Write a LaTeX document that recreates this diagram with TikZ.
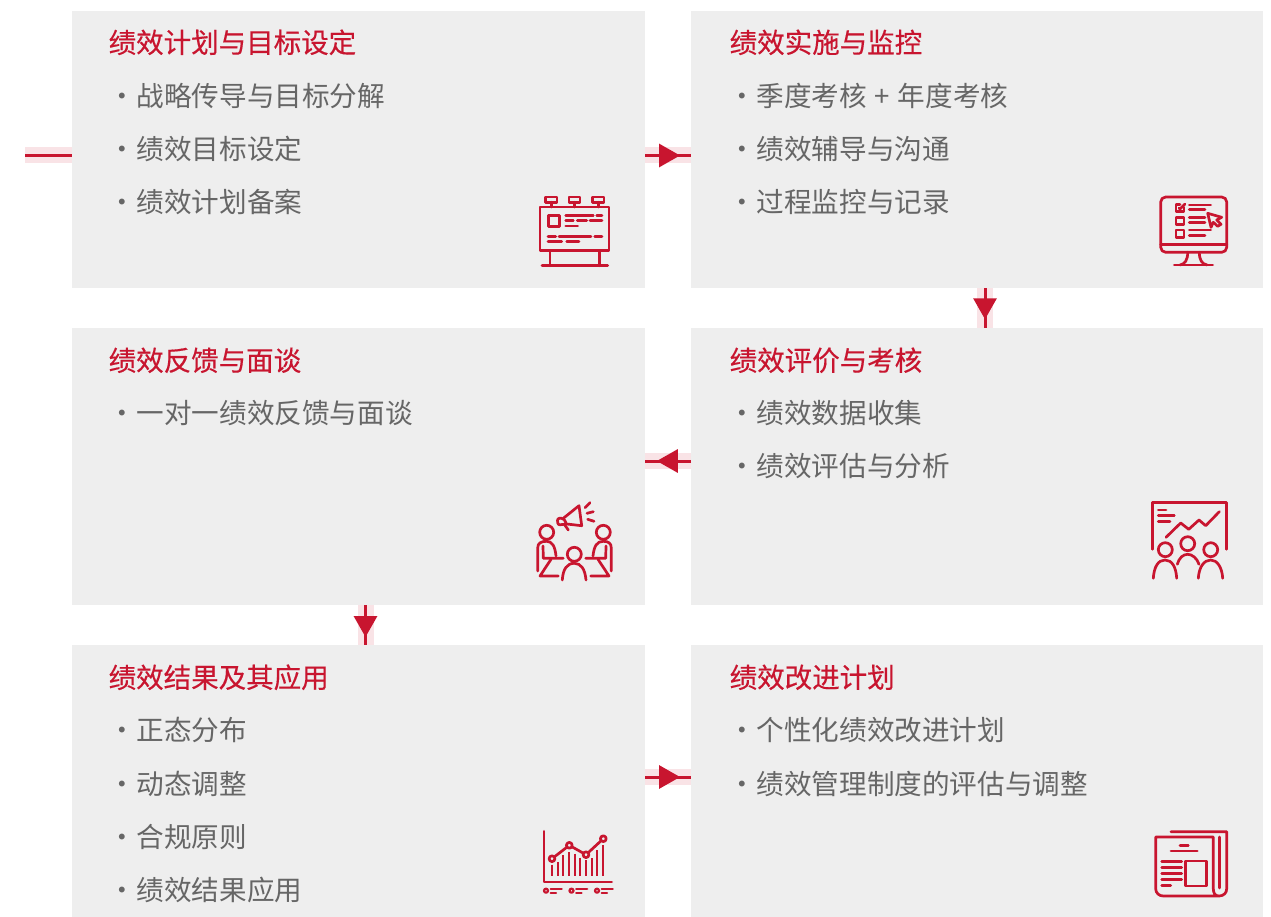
\documentclass[tikz,border=0pt]{standalone}
\usepackage{fontspec}
\setmainfont{Noto Sans CJK SC}
\newfontfamily\headfont[FakeBold=0.35]{Noto Sans CJK SC}
\usetikzlibrary{arrows.meta,decorations.markings,calc}
\definecolor{brand}{HTML}{C8152F}
\definecolor{pale}{HTML}{F9E3E6}
\definecolor{panel}{HTML}{EEEEEE}
\definecolor{ink}{HTML}{666666}
\newcommand\itm[1]{\makebox[22pt]{·}\hspace{3.5pt}#1}
\tikzset{
  panelbox/.style={fill=panel,draw=none,minimum width=#1,minimum height=277pt,inner sep=0,anchor=north west},
  panelbox/.default=573pt,
  title/.style={anchor=west,inner sep=0,text=brand,font=\headfont\fontsize{27.5}{30}\selectfont},
  item/.style={anchor=west,inner sep=0,text=ink,font=\fontsize{27.6}{30}\selectfont},
  band/.style={draw=pale,line width=16pt},
  flowline/.style={draw=brand,line width=3pt},
  flowtip/.style={postaction={decorate,decoration={markings,mark=at position #1 with {\arrow[brand]{Triangle[length=21pt,width=23pt]}}}}},
  ic/.style={draw=brand,line width=2.7pt,line cap=round,line join=round},
}
\newcommand\flow[3]{%
  \draw[band] #1 -- #2;
  \draw[flowline,flowtip=#3] #1 -- #2;
}
\begin{document}
\begin{tikzpicture}[x=1pt,y=-1pt]
\useasboundingbox (0,0) rectangle (1271,917);
\fill[white] (0,0) rectangle (1271,917);
% panels
\node[panelbox] (a) at (72,11) {};
\node[panelbox=572pt] (b) at (691,11) {};
\node[panelbox] (d) at (72,328) {};
\node[panelbox=572pt] (c) at (691,328) {};
\node[panelbox,minimum height=272pt] (e) at (72,645) {};
\node[panelbox=572pt,minimum height=272pt] (f) at (691,645) {};
% connectors
\coordinate (start) at (25,155.5);
\draw[band] (start) -- (start -| a.west);
\draw[flowline] (start) -- (start -| a.west);
\flow{(a.east |- start)}{(b.west |- start)}{.76}
\coordinate (bc) at (985,0);
\flow{(bc |- b.south)}{(bc |- c.north)}{.78}
\coordinate (cd) at (0,461);
\flow{(c.west |- cd)}{(d.east |- cd)}{.75}
\coordinate (de) at (365.5,0);
\flow{(de |- d.south)}{(de |- e.north)}{.8}
\coordinate (ef) at (0,777);
\flow{(e.east |- ef)}{(f.west |- ef)}{.76}
% texts
\node[title] (a0) at (108.5,42.3) {绩效计划与目标设定};
\node[item] (a1) at (111,96.3) {\itm{战略传导与目标分解}};
\node[item] (a2) at (111,149.3) {\itm{绩效目标设定}};
\node[item] (a3) at (111,202.3) {\itm{绩效计划备案}};
\node[title] (b0) at (729.5,42.3) {绩效实施与监控};
\node[item] (b1) at (731,96.3) {\itm{季度考核\hspace{1.6pt} + \hspace{1.6pt}年度考核}};
\node[item] (b2) at (731,149.3) {\itm{绩效辅导与沟通}};
\node[item] (b3) at (731,202.3) {\itm{过程监控与记录}};
\node[title] (d0) at (108.5,360.3) {绩效反馈与面谈};
\node[item] (d1) at (111,413.3) {\itm{一对一绩效反馈与面谈}};
\node[title] (c0) at (729.5,360.3) {绩效评价与考核};
\node[item] (c1) at (731,413.3) {\itm{绩效数据收集}};
\node[item] (c2) at (731,466.3) {\itm{绩效评估与分析}};
\node[title] (e0) at (108.5,677.3) {绩效结果及其应用};
\node[item] (e1) at (111,730.3) {\itm{正态分布}};
\node[item] (e2) at (111,784.3) {\itm{动态调整}};
\node[item] (e3) at (111,837.3) {\itm{合规原则}};
\node[item] (e4) at (111,890.3) {\itm{绩效结果应用}};
\node[title] (f0) at (729.5,677.3) {绩效改进计划};
\node[item] (f1) at (731,730.3) {\itm{个性化绩效改进计划}};
\node[item] (f2) at (731,784.3) {\itm{绩效管理制度的评估与调整}};
% icon: billboard
\begin{scope}[ic]
\draw (540,207) rectangle (609,250.7);
\draw (545.7,197) rectangle (557,202.3) (569,197) rectangle (580,202.3) (592.7,197) rectangle (604,202.3);
\draw (551.3,202.3) -- (551.3,207) (574.3,202.3) -- (574.3,207) (598.3,202.3) -- (598.3,207);
\draw (550,250.7) -- (550,265.7) (599.3,250.7) -- (599.3,265.7) (542,265.7) -- (607.7,265.7);
\draw (548.3,215.3) rectangle (559.3,226.7);
\draw (565.7,215.3) -- (593.3,215.3) (596.7,215.3) -- (602,215.3);
\draw (565.7,220.7) -- (573.3,220.7) (577.3,220.7) -- (586.7,220.7) (590,220.7) -- (602,220.7);
\draw (565.7,226) -- (577.7,226);
\draw (548,236.3) -- (555.7,236.3) (559,236.3) -- (591,236.3) (594.7,236.3) -- (602,236.3);
\draw (548,241.7) -- (561.7,241.7) (566.7,241.7) -- (579,241.7);
\end{scope}
% icon: monitor
\begin{scope}[ic]
\draw[rounded corners=5pt] (1160.7,197) rectangle (1226.7,252.3);
\draw (1160.7,244.3) -- (1226.7,244.3);
\draw (1187.7,252.3) .. controls (1187.7,260) and (1185,264) .. (1180,265);
\draw (1199.3,252.3) .. controls (1199.3,260) and (1202,264) .. (1207,265);
\draw (1174.3,265) -- (1212.7,265);
\draw (1184,207.5) -- (1184,211.7) -- (1176,211.7) -- (1176,204.3) -- (1180,204.3);
\draw (1179,208) -- (1180,209) -- (1185,204);
\draw (1176,217.3) rectangle (1184,224.7) (1176,230) rectangle (1184,237.7);
\draw (1189.3,205) -- (1210.7,205) (1189.3,209.7) -- (1205,209.7);
\draw (1189.3,217.3) -- (1205,217.3) (1189.3,222.3) -- (1205,222.3);
\draw (1189.3,230) -- (1210.7,230) (1189.3,235.7) -- (1205,235.7);
\draw (1207.7,213.3) -- (1221.7,217.3) -- (1216.7,220) -- (1221,224.3) -- (1217.7,226.3) -- (1213.3,222.3) -- (1211,227.3) -- cycle;
\end{scope}
% icon: presentation
\begin{scope}[ic]
\draw (1152.3,549.3) -- (1152.3,502.7) -- (1226.7,502.7) -- (1226.7,549.3);
\draw (1158.3,510) -- (1166,510) (1158.3,515.7) -- (1174.3,515.7) (1158.3,521.3) -- (1170,521.3);
\draw (1166,537.3) -- (1180.7,523) -- (1188.7,529.3) -- (1199,520) -- (1205.7,525.7) -- (1219.3,511.7);
\draw (1165.3,549.7) circle[radius=7] (1187.7,543.7) circle[radius=7] (1210.7,549.7) circle[radius=7];
\draw (1153.3,578.3) .. controls (1154,567) and (1158,560) .. (1165,560) .. controls (1172,560) and (1176,567) .. (1176.7,578.3);
\draw (1198.3,578.3) .. controls (1199,567) and (1204,560) .. (1210.7,560) .. controls (1217,560) and (1222,567) .. (1222.7,578.3);
\draw (1177.3,564.3) .. controls (1179,558) and (1183,554.3) .. (1187.7,554.3) .. controls (1192,554.3) and (1197,558) .. (1199,564.3);
\end{scope}
% icon: meeting
\begin{scope}[ic]
\draw (563.3,518.3) -- (579,505.7) -- (581.7,525.7) -- (566.7,524);
\draw[rounded corners=2pt] (563.3,518) -- (557.3,518.5) -- (558,525) -- (566.7,524) -- cycle;
\draw (564.3,524.3) -- (568.3,530);
\draw (585,507.7) -- (590,502.7) (587,513.3) -- (593.3,511.7) (587.7,519.3) -- (594,521.3);
\draw (546.7,532.3) circle[radius=7] (603.3,532.3) circle[radius=7] (574.3,554.3) circle[radius=7];
\draw (562.3,580) .. controls (563,569) and (567,563.3) .. (574.3,563.3) .. controls (581,563.3) and (585,569) .. (586,580);
\draw (537.7,571) -- (537.7,548) .. controls (537.7,543) and (541,541.3) .. (546.7,541.3) .. controls (552,541.3) and (555,546) .. (556,556);
\draw (543,546) -- (543.3,558.3) -- (563.3,558.3);
\draw (551,559.3) -- (540,576) -- (558.3,576);
\draw (611.3,571) -- (611.3,548) .. controls (611.3,543) and (608,541.3) .. (603.3,541.3) .. controls (597,541.3) and (594,546) .. (593,556);
\draw (606,546) -- (605.7,558.3) -- (585.7,558.3);
\draw (598,559.3) -- (609,576) -- (590.7,576);
\end{scope}
% icon: chart
\begin{scope}[ic]
\draw (544,831.3) -- (544,882) -- (611.7,882);
\draw (552,858.7) -- (569.3,845.3) -- (586,854.7) -- (603.3,838.7);
\foreach \bx/\by in {552/864.7,557.7/862,563.3/855.3,569/852,574.7/853.7,580.3/857.7,586/860.3,591.7/858,597.3/850.3,603/845.3}
  \draw[line width=2.2pt,line cap=butt] (\bx,\by) -- (\bx,876.3);
\foreach \cx/\cy in {552/858.7,569.3/845.3,586/854.7,603.3/838.7}
  \filldraw[fill=panel] (\cx,\cy) circle[radius=2.9];
\foreach \dx in {0,25.5,51}{
  \draw[line width=2.2pt] (546+\dx,890.7) circle[radius=2];
  \draw[line width=2.2pt] (550.7+\dx,888.7) -- (561.7+\dx,888.7) (550.7+\dx,892.7) -- (556+\dx,892.7);
}
\end{scope}
% icon: newspaper
\begin{scope}[ic]
\draw (1171,831.7) -- (1226.7,831.7) -- (1226.7,888.7) .. controls (1226.7,893) and (1223.5,896) .. (1219,896) -- (1163.3,896) .. controls (1159,896) and (1155.7,893) .. (1155.7,888.7) -- (1155.7,837) -- (1213.3,837) -- (1213.3,888.7) .. controls (1213.3,893) and (1215,896) .. (1219,896);
\draw (1219.5,837) -- (1219.5,888);
\draw (1180,845.3) -- (1188.3,845.3) (1171,851) -- (1197.3,851);
\draw (1161.7,861.3) -- (1181.7,861.3) (1161.7,867.3) -- (1181.7,867.3) (1161.7,873.3) -- (1181.7,873.3) (1161.7,879.3) -- (1181.7,879.3) (1161.7,885.3) -- (1170.7,885.3);
\draw (1185.3,861) rectangle (1206.7,886);
\end{scope}
\end{tikzpicture}
\end{document}
